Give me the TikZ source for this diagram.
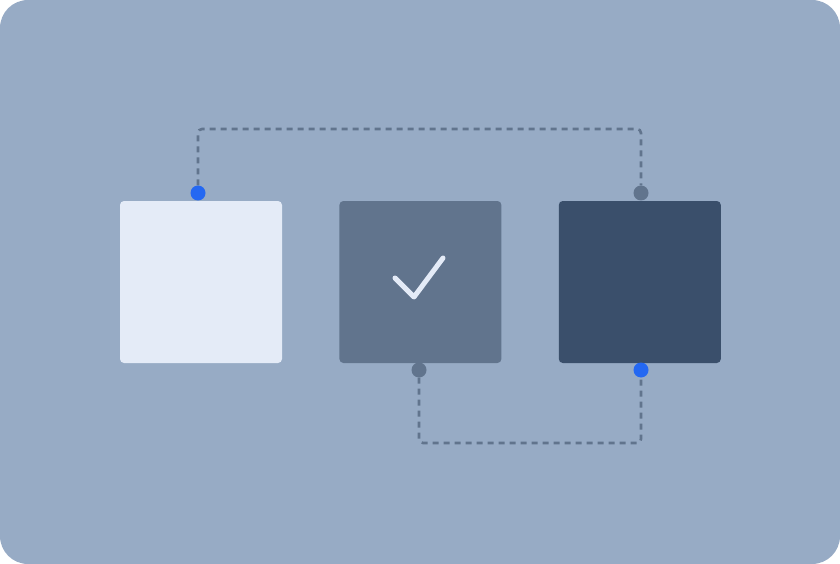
\documentclass[tikz,border=0pt]{standalone}
\usetikzlibrary{positioning,backgrounds}
\definecolor{bgblue}{HTML}{97ABC5}
\definecolor{paleblock}{HTML}{E4EBF7}
\definecolor{midblock}{HTML}{61748D}
\definecolor{darkblock}{HTML}{3A4F6B}
\definecolor{linkgray}{HTML}{61748D}
\definecolor{pinblue}{HTML}{2468F2}
\begin{document}
\begin{tikzpicture}[x=1pt, y=-1pt,
    block/.style={minimum size=162pt, inner sep=0pt, rounded corners=4pt},
    pin/.style={circle, minimum size=15pt, inner sep=0pt},
    link/.style={draw=linkgray, line width=2.6pt, dash pattern=on 6pt off 5pt, rounded corners=4pt}]
    \useasboundingbox (0,0) rectangle (840,564);
    % blocks
    \node[block, fill=paleblock] (left) at (201,282) {};
    \node[block, fill=midblock, right=57pt of left] (middle) {};
    \node[block, fill=darkblock, right=57pt of middle] (right) {};
    % check mark
    \draw[paleblock, line width=5pt, line cap=round, line join=round]
      (395,278) -- (414,297) -- (443,258);
    % pins
    \node[pin, fill=pinblue] (leftpin) at (198,193) {};
    \node[pin, fill=linkgray] (rightpintop) at (641,193) {};
    \node[pin, fill=linkgray] (midpin) at (419,370) {};
    \node[pin, fill=pinblue] (rightpinbot) at (641,370) {};
    % rows the links run along
    \coordinate (toprow) at (420,129);
    \coordinate (botrow) at (420,443);
    \begin{scope}[on background layer]
    \fill[bgblue, rounded corners=28pt] (0,0) rectangle (840,564);
    \draw[link] (leftpin) -- (leftpin |- toprow) -- (rightpintop |- toprow) -- (rightpintop);
    \draw[link] (midpin) -- (midpin |- botrow) -- (rightpinbot |- botrow) -- (rightpinbot);
    \end{scope}
\end{tikzpicture}
\end{document}
